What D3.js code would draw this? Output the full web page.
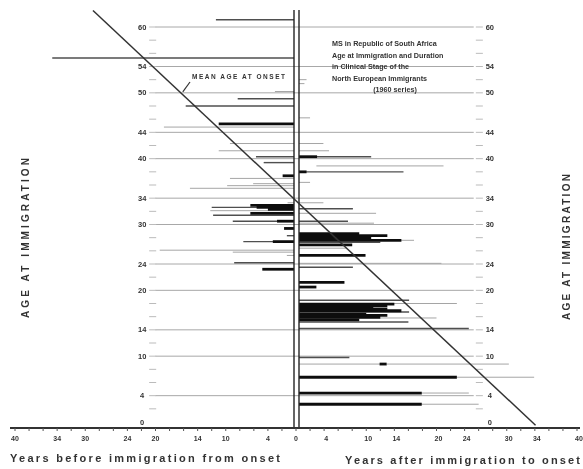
<!DOCTYPE html>
<html>
<head>
<meta charset="utf-8">
<script src="https://cdn.jsdelivr.net/npm/d3@7"></script>
<style>
  body { margin: 0; background: #fff; }
  svg { display: block; }
  text { font-family: "Liberation Sans", Arial, sans-serif; font-weight: bold; fill: #333; }
</style>
</head>
<body>
<div id="chart"></div>
<script>
// tick labels
const ageTicks = [0, 4, 10, 14, 20, 24, 30, 34, 40, 44, 50, 54, 60];
const yearTicks = [-40, -34, -30, -24, -20, -14, -10, -4, 0, 4, 10, 14, 20, 24, 30, 34, 40];

// [age at immigration, from year, to year, cases] - negative years = before immigration
const beforeSegs = [
  [61.1, -11.4, 0, 2], [55.3, -34.7, 0, 2], [50.2, -3, 0, 1], [49.1, -8.3, 0, 2],
  [48.0, -15.7, 0, 2], [45.3, -11, 0, 3], [44.8, -18.8, 0, 1], [42.3, -9.4, 0, 1],
  [41.2, -11, 0, 1], [40.3, -5.7, 0, 2], [39.4, -4.6, 0, 2], [37.4, -1.9, 0, 3],
  [37.0, -9.4, 0, 1], [36.2, -6.1, 0, 1], [35.9, -9.8, 0, 1], [35.5, -15.1, 0, 1],
  [33.3, -1.2, 0, 1], [32.9, -6.5, 0, 3], [32.6, -12, 0, 2], [32.6, -5.6, 0, 3],
  [32.3, -4, 0, 3], [32.1, -12.2, 0, 1], [31.7, -6.5, 0, 3], [31.4, -11.8, 0, 2],
  [30.5, -9, 0, 2], [30.5, -2.7, 0, 3], [29.4, -1.7, 0, 3], [28.3, -1.3, 0, 2],
  [27.4, -7.5, 0, 2], [27.4, -3.3, 0, 3], [26.1, -19.4, 0, 1], [25.8, -9, 0, 1],
  [25.3, -1.3, 0, 1], [24.2, -8.8, 0, 2], [23.2, -4.8, 0, 3]
];
const afterSegs = [
  [52.0, 0, 1.5, 1], [51.4, 0, 1.2, 1], [46.2, 0, 2, 1], [42.3, 0, 3.9, 1],
  [41.2, 0, 4.7, 1], [40.3, 0, 10.7, 2], [40.3, 0, 3, 3], [38.9, 2.9, 21, 1],
  [38.0, 0, 15.3, 2], [38.0, 0, 1.5, 3], [36.4, 0, 2, 1], [33.3, 0, 3.9, 1],
  [32.4, 0, 8.1, 2], [31.7, 0, 11.4, 1], [30.5, 0, 7.4, 2], [30.2, 0, 11.1, 1],
  [28.6, 0, 9, 3], [28.3, 0, 13, 3], [28.0, 0, 10.7, 3], [27.6, 0, 16.8, 1],
  [27.6, 0, 15, 3], [27.3, 0, 12, 2], [26.9, 0, 8, 3], [26.4, 0, 7.1, 1],
  [25.3, 0, 9.9, 3], [24.1, 0, 20.7, 1], [23.5, 0, 8.1, 2], [21.2, 0, 6.9, 3],
  [20.5, 0, 2.9, 3], [18.5, 0, 16.1, 2], [18.0, 0, 22.9, 1], [17.9, 0, 14, 3],
  [17.6, 0, 13, 3], [17.3, 0, 11, 3], [17.1, 0, 13, 3], [16.9, 0, 15, 3],
  [16.7, 0, 16.1, 2], [16.4, 0, 10, 3], [16.2, 0, 13, 3], [15.9, 0, 12, 3],
  [15.8, 0, 20, 1], [15.5, 0, 9, 3], [15.2, 0, 16, 2], [14.2, 0, 24.6, 2],
  [9.8, 0, 7.6, 2], [8.8, 0, 30.3, 1], [8.8, 11.9, 12.9, 3], [6.8, 22.9, 33.9, 1],
  [6.8, 0, 22.9, 3], [4.4, 0, 24.6, 1], [4.4, 0, 17.9, 3], [2.7, 0, 26, 1],
  [2.7, 0, 17.9, 3]
];

const meanOnset = 33.6;
const titleLines = [
  "MS in Republic of South Africa",
  "Age at Immigration and Duration",
  "in Clinical Stage of the",
  "North European Immigrants",
  "(1960 series)"
];

const width = 583, height = 469;

const x = d3.scaleLinear().domain([-40, 40]).range([15, 577]);
const y = d3.scaleLinear().domain([0, 60]).range([422, 27]);

const svg = d3.select('#chart').append('svg')
  .attr('width', width).attr('height', height);

svg.append('defs').append('filter').attr('id', 'scan')
  .append('feGaussianBlur').attr('stdDeviation', 0.55);

const g = svg.append('g').attr('filter', 'url(#scan)');

const x0 = x(0);
const gapL = x0 - 2, gapR = x0 + 3;

// grid at labelled ages
const grid = g.append('g');
ageTicks.filter(d => d > 0).forEach(a => {
  grid.append('line')
    .attr('x1', x(-20)).attr('x2', x(25.3))
    .attr('y1', y(a)).attr('y2', y(a))
    .attr('stroke', '#a8a8a8').attr('stroke-width', 1);
});

// small dashes along both label columns
d3.range(2, 62, 2).forEach(a => {
  [[x(-20.9), x(-19.9)], [x(25.6), x(26.6)]].forEach(([a1, a2]) => {
    grid.append('line')
      .attr('x1', a1).attr('x2', a2)
      .attr('y1', y(a)).attr('y2', y(a))
      .attr('stroke', '#bbb').attr('stroke-width', 1);
  });
});

// segments
const strokeCol = d3.scaleOrdinal().domain([1, 2, 3]).range(['#a5a5a5', '#505050', '#111']);
const strokeW = d3.scaleOrdinal().domain([1, 2, 3]).range([1, 1.4, 2.8]);

const segX1 = d => d[1] === 0 ? gapR : x(d[1]);
const segX2 = d => d[2] <= 0 ? gapL : x(d[2]);

const allSegs = beforeSegs.concat(afterSegs).sort((a, b) => a[3] - b[3]);
g.append('g').selectAll('line')
  .data(allSegs)
  .join('line')
  .attr('x1', segX1).attr('x2', segX2)
  .attr('y1', d => y(d[0])).attr('y2', d => y(d[0]))
  .attr('stroke', d => strokeCol(d[3]))
  .attr('stroke-width', d => strokeW(d[3]));

// double line at zero
[gapL, gapR].forEach(px => {
  g.append('line')
    .attr('x1', px).attr('x2', px)
    .attr('y1', 10).attr('y2', y(0) + 6)
    .attr('stroke', '#222').attr('stroke-width', 1.4);
});

// mean age at onset diagonal
const diag = [62.5, -0.5];
g.append('line')
  .attr('x1', x(meanOnset - diag[0])).attr('y1', y(diag[0]))
  .attr('x2', x(meanOnset - diag[1])).attr('y2', y(diag[1]))
  .attr('stroke', '#333').attr('stroke-width', 1.5);

g.append('text')
  .attr('x', 192).attr('y', 79)
  .attr('font-size', 6.5)
  .attr('textLength', 93)
  .attr('lengthAdjust', 'spacing')
  .text('MEAN AGE AT ONSET');
const arrowAge = 50;
g.append('line')
  .attr('x1', 190).attr('y1', 82)
  .attr('x2', x(meanOnset - arrowAge) + 2).attr('y2', y(arrowAge) - 1)
  .attr('stroke', '#333').attr('stroke-width', 1.2);

// x axis
const axisY = y(0) + 6;
g.append('line')
  .attr('x1', 10).attr('x2', 580)
  .attr('y1', axisY).attr('y2', axisY)
  .attr('stroke', '#333').attr('stroke-width', 1.8);

d3.range(-40, 41, 2).forEach(v => {
  g.append('line')
    .attr('x1', x(v)).attr('x2', x(v))
    .attr('y1', axisY).attr('y2', axisY + 3)
    .attr('stroke', '#555').attr('stroke-width', 1);
});

g.append('g').selectAll('text')
  .data(yearTicks)
  .join('text')
  .attr('x', d => x(d) + (d > 0 ? 2 : 0))
  .attr('y', axisY + 13)
  .attr('text-anchor', 'middle')
  .attr('font-size', 7)
  .attr('fill', '#222')
  .text(d => Math.abs(d));

// age labels both sides
const ageLabels = g.append('g');
[x(-21.9), x(27.6)].forEach(px => {
  ageTicks.forEach(a => {
    ageLabels.append('text')
      .attr('x', px).attr('y', y(a) + 2.5)
      .attr('text-anchor', 'middle')
      .attr('font-size', 7.5)
      .attr('fill', '#1a1a1a')
      .text(a);
  });
});

// axis titles
g.append('text')
  .attr('x', 10).attr('y', 462)
  .attr('font-size', 11)
  .attr('fill', '#222')
  .attr('textLength', 270).attr('lengthAdjust', 'spacing')
  .text('Years before immigration from onset');
g.append('text')
  .attr('x', 345).attr('y', 464)
  .attr('font-size', 11)
  .attr('fill', '#222')
  .attr('textLength', 235).attr('lengthAdjust', 'spacing')
  .text('Years after immigration to onset');

g.append('text')
  .attr('transform', 'translate(29,318) rotate(-90)')
  .attr('font-size', 10)
  .attr('textLength', 160).attr('lengthAdjust', 'spacing')
  .text('AGE AT IMMIGRATION');
g.append('text')
  .attr('transform', 'translate(570,320) rotate(-90)')
  .attr('font-size', 10)
  .attr('textLength', 146).attr('lengthAdjust', 'spacing')
  .text('AGE AT IMMIGRATION');

// title box
const tb = g.append('g');
titleLines.forEach((t, i) => {
  const last = i === titleLines.length - 1;
  tb.append('text')
    .attr('x', last ? 395 : 332)
    .attr('y', 46 + i * 11.5)
    .attr('text-anchor', last ? 'middle' : 'start')
    .attr('font-size', 7.2)
    .attr('fill', '#222')
    .text(t);
});
</script>
</body>
</html>
